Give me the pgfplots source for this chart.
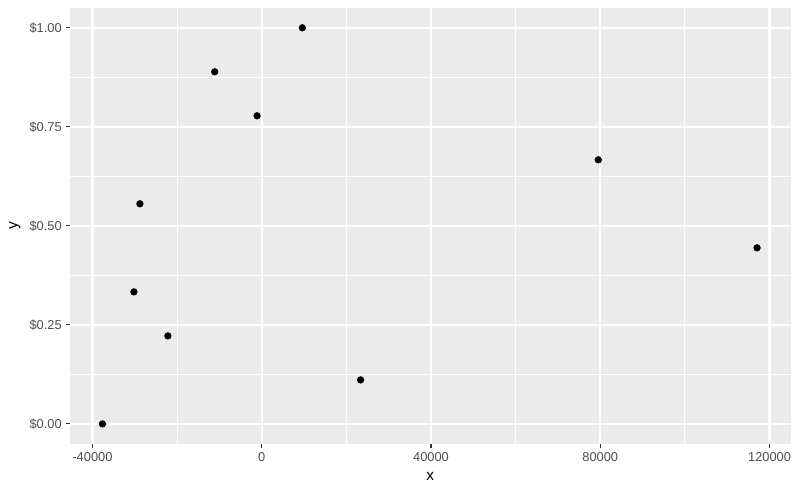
\documentclass[border=0pt]{standalone}
\usepackage{pgfplots}
\pgfplotsset{compat=1.18}
\usepackage{fontspec}
\setmainfont{Liberation Sans}
\definecolor{panelbg}{HTML}{EBEBEB}
\definecolor{ticktext}{HTML}{4D4D4D}
\definecolor{tickmark}{HTML}{333333}
\begin{document}
\begin{tikzpicture}
\useasboundingbox (0,0) rectangle (800bp,494bp);
\begin{axis}[
    at={(69.7bp,50.3bp)}, anchor=south west,
    width=721bp, height=435.7bp,
    scale only axis,
    xmin=-45380, xmax=125000,
    ymin=-0.05, ymax=1.05,
    axis background/.style={fill=panelbg},
    axis line style={draw=none},
    scaled x ticks=false, scaled y ticks=false,
    xtick={-40000,0,40000,80000,120000},
    xticklabels={-40000,0,40000,80000,120000},
    minor xtick={-20000,20000,60000,100000},
    ytick={0,0.25,0.5,0.75,1},
    yticklabels={\$0.00,\$0.25,\$0.50,\$0.75,\$1.00},
    minor ytick={0.125,0.375,0.625,0.875},
    xtick pos=bottom, ytick pos=left,
    tick align=outside,
    major tick length=4bp, minor tick length=0pt,
    every tick/.style={tickmark, line width=1.1bp},
    grid=both,
    major grid style={white, line width=2.1bp},
    minor grid style={white, line width=1bp},
    ticklabel style={font=\fontsize{12.9}{15}\selectfont, text=ticktext},
    /pgf/number format/assume math mode=true,
    xticklabel style={yshift=-1bp},
    yticklabel style={xshift=-0.5bp},
    xlabel={x}, ylabel={y},
    label style={font=\fontsize{15.5}{18}\selectfont, text=black},
    xlabel style={at={(axis description cs:0.5,-0.075)}, anchor=center},
    ylabel style={at={(axis description cs:-0.076,0.5)}, anchor=center},
    clip=false,
]
\addplot[only marks, mark=*, mark size=3.4bp, black] coordinates {
    (-37640,0.0000)
    (23360,0.1111)
    (-22180,0.2222)
    (-30210,0.3333)
    (117050,0.4444)
    (-28790,0.5556)
    (79530,0.6667)
    (-1100,0.7778)
    (-11110,0.8889)
    (9600,1.0000)
};
\end{axis}
\end{tikzpicture}
\end{document}
